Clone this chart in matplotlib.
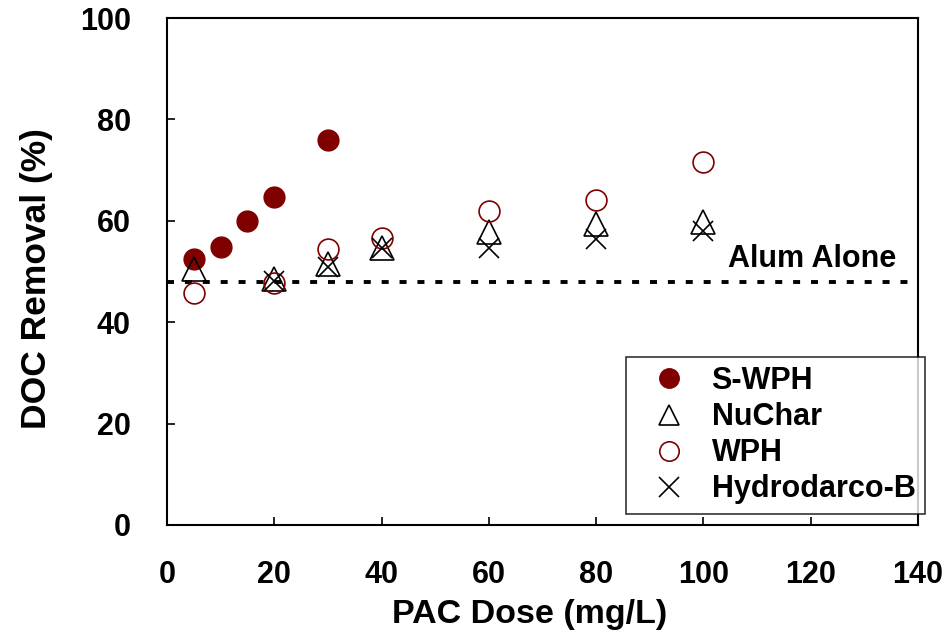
import matplotlib
matplotlib.use("Agg")
import matplotlib.pyplot as plt
from matplotlib.lines import Line2D

plt.rcParams['font.family'] = ['Liberation Sans', 'DejaVu Sans']
plt.rcParams['font.weight'] = 'bold'

swph_x = [5, 10, 15, 20, 30]
swph_y = [52.4, 54.8, 59.9, 64.7, 75.9]

nuchar_x = [5, 20, 30, 40, 60, 80, 100]
nuchar_y = [50.4, 48.5, 51.4, 54.6, 57.8, 59.4, 59.8]

wph_x = [5, 20, 30, 40, 60, 80, 100]
wph_y = [45.8, 47.8, 54.4, 56.7, 62.0, 64.2, 71.5]

hydro_x = [20, 30, 40, 60, 80, 100]
hydro_y = [48.2, 50.9, 54.6, 54.7, 56.4, 58.0]

alum_alone = 48.0

xticks = [0, 20, 40, 60, 80, 100, 120, 140]
yticks = [0, 20, 40, 60, 80, 100]

red = '#800000'

fig = plt.figure(figsize=(9.49, 6.40), dpi=100)
ax = fig.add_axes([167/949, 1-525/640, (918-167)/949, (525-18)/640])

ax.axhline(alum_alone, color='black', linestyle=(0, (1.8, 2.8)), linewidth=2.8, zorder=1)
ax.text(136, alum_alone + 1.5, 'Alum Alone', fontsize=22, fontweight='bold',
        ha='right', va='bottom')

ax.plot(swph_x, swph_y, linestyle='none', marker='o', markersize=15,
        markerfacecolor=red, markeredgecolor=red, label='S-WPH', zorder=3)
ax.plot(nuchar_x, nuchar_y, linestyle='none', marker='^', markersize=17,
        markerfacecolor='none', markeredgecolor='black', markeredgewidth=1.2,
        label='NuChar', zorder=4)
ax.plot(wph_x, wph_y, linestyle='none', marker='o', markersize=15,
        markerfacecolor='none', markeredgecolor=red, markeredgewidth=1.2,
        label='WPH', zorder=4)
ax.plot(hydro_x, hydro_y, linestyle='none', marker='x', markersize=15,
        markeredgecolor='black', markeredgewidth=1.2, label='Hydrodarco-B', zorder=4)

ax.set_xlim(0, 140)
ax.set_ylim(0, 100)
ax.set_xticks(xticks)
ax.set_yticks(yticks)
ax.tick_params(direction='in', length=6, width=1.2, labelsize=22,
               top=False, right=False)
ax.tick_params(axis='y', pad=26)
ax.tick_params(axis='x', pad=25)
for lab in ax.get_xticklabels() + ax.get_yticklabels():
    lab.set_fontweight('bold')
for s in ax.spines.values():
    s.set_linewidth(1.5)

ax.set_xlabel('PAC Dose (mg/L)', fontsize=24.5, fontweight='bold', va='top')
ax.set_ylabel('DOC Removal (%)', fontsize=25.5, fontweight='bold')
ax.xaxis.set_label_coords((529.5-167)/751, (525-599)/507)
ax.yaxis.set_label_coords((53-167)/751, (525-279)/507)

handles = [
    Line2D([], [], linestyle='none', marker='o', markersize=14, markerfacecolor=red, markeredgecolor=red),
    Line2D([], [], linestyle='none', marker='^', markersize=15, markerfacecolor='none', markeredgecolor='black', markeredgewidth=1.2),
    Line2D([], [], linestyle='none', marker='o', markersize=14, markerfacecolor='none', markeredgecolor=red, markeredgewidth=1.2),
    Line2D([], [], linestyle='none', marker='x', markersize=14, markeredgecolor='black', markeredgewidth=1.2),
]
labels = ['S-WPH', 'NuChar', 'WPH', 'Hydrodarco-B']
leg = ax.legend(handles, labels, loc='upper left', bbox_to_anchor=((626-167)/751, (525-357)/507),
                frameon=True, fancybox=False, edgecolor='black',
                prop={'weight': 'bold', 'size': 22}, handletextpad=0.3, labelspacing=0.2,
                borderpad=0.3, handlelength=2.2, borderaxespad=0)
leg.get_frame().set_linewidth(1.2)
leg.set_zorder(5)

fig.savefig('out.png', dpi=100)
